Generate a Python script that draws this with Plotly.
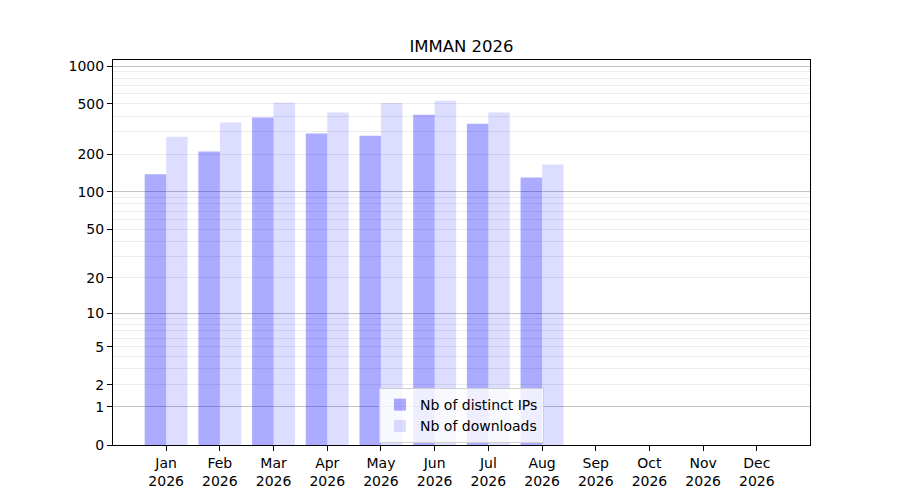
import numpy as np
import plotly.graph_objects as go

# donnees
mois = ["Jan", "Feb", "Mar", "Apr", "May", "Jun", "Jul", "Aug", "Sep", "Oct", "Nov", "Dec"]
annee = "2026"
nb_ips = [138, 210, 390, 291, 280, 411, 348, 130]
nb_downloads = [275, 356, 512, 427, 510, 530, 427, 165]

ticks_y = [0, 1, 2, 5, 10, 20, 50, 100, 200, 500, 1000]
majeurs_y = [1, 10, 100, 1000]
mineurs_y = [m * d for d in (1, 10, 100) for m in range(2, 10)]


# echelle log10(1 + x), comme l'axe d'origine
def tr(v):
    return np.log10(1 + np.asarray(v, dtype=float))


x = list(range(len(nb_ips)))
police = dict(family="DejaVu Sans", size=14, color="black")

fig = go.Figure()
fig.add_trace(go.Bar(x=x, y=tr(nb_ips), name="Nb of distinct IPs", width=0.4, offset=-0.4,
                     marker=dict(color="rgba(0,0,255,0.33)", line=dict(width=0))))
fig.add_trace(go.Bar(x=x, y=tr(nb_downloads), name="Nb of downloads", width=0.4, offset=0,
                     marker=dict(color="rgba(0,0,255,0.135)", line=dict(width=0))))

# la page html ajoute 8 px de marge autour du graphique
fig.update_layout(
    width=892, height=492,
    margin=dict(l=105, r=90, t=52, b=55),
    plot_bgcolor="white", paper_bgcolor="white",
    font=police,
    title=dict(text="IMMAN 2026", x=0.5, xref="paper", xanchor="center",
               y=1 - 38 / 492, yanchor="middle", font=dict(family="DejaVu Sans", size=16.5, color="black")),
    barmode="overlay",
    showlegend=True,
    legend=dict(x=0.5, xanchor="center", y=0.005, yanchor="bottom",
                bgcolor="rgba(255,255,255,0.8)", bordercolor="#d0d0d0", borderwidth=1,
                font=police, tracegroupgap=0),
    xaxis=dict(range=[-0.99, 11.99], tickvals=list(range(len(mois))),
               ticktext=[m + "<br>" + annee for m in mois],
               showgrid=False, zeroline=False, showline=True, linecolor="black", linewidth=1,
               mirror=True, ticks="outside", ticklen=5, tickcolor="black"),
    yaxis=dict(range=[0, 3.048], tickvals=tr(ticks_y), ticktext=[str(t) for t in ticks_y],
               showgrid=False, zeroline=False, showline=True, linecolor="black", linewidth=1,
               mirror=True, ticks="outside", ticklen=5, tickcolor="black",
               minor=dict(tickvals=tr(mineurs_y), showgrid=True, gridcolor="#ececec", gridwidth=1, ticks="")),
    yaxis2=dict(range=[0, 3.048], overlaying="y", tickvals=tr(majeurs_y), showticklabels=False,
                showgrid=True, gridcolor="#c4c4c4", gridwidth=1, zeroline=False, ticks=""),
)
# trace invisible pour activer l'axe des grandes lignes
fig.add_trace(go.Scatter(x=[None], y=[None], yaxis="y2", showlegend=False, hoverinfo="skip"))

fig.write_html("out.html")
